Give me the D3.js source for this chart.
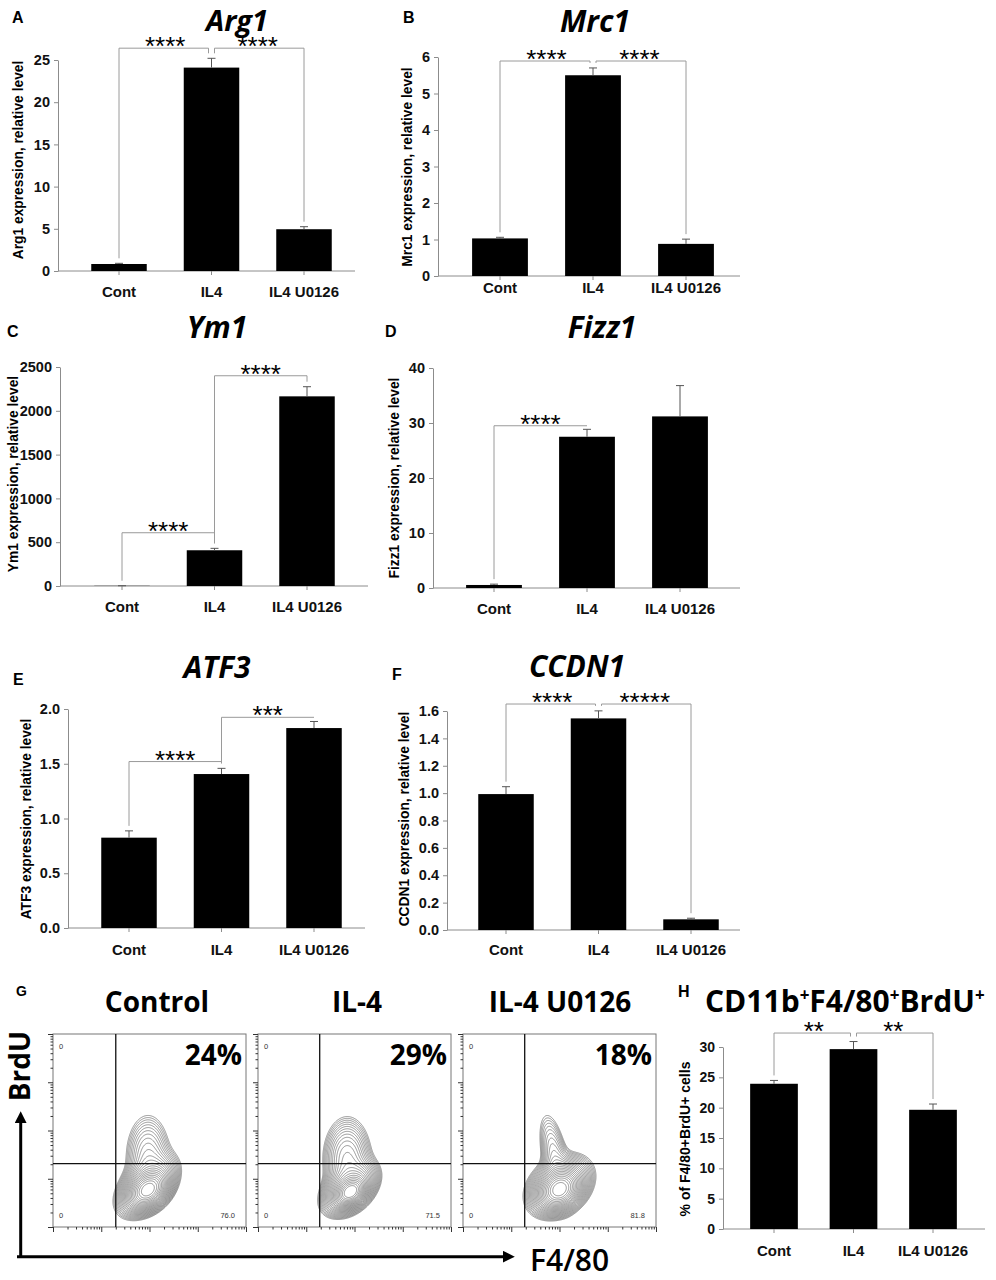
<!DOCTYPE html>
<html>
<head>
<meta charset="utf-8">
<script src="https://cdn.jsdelivr.net/npm/d3@7"></script>
<style>
  body { margin: 0; background: #fff; }
  svg { display: block; }
</style>
</head>
<body>
<div id="chart"></div>
<script>
// categories shared by all bar panels
const categories = ['Cont', 'IL4', 'IL4 U0126'];

// A - Arg1
const arg1Mean = [0.83, 24.1, 4.95];
const arg1Err = [0.08, 1.1, 0.3];
const arg1Ticks = [0, 5, 10, 15, 20, 25];
const arg1Sig = [[0, 1, '****', 26.4], [1, 2, '****', 26.4]];

// B - Mrc1
const mrc1Mean = [1.03, 5.5, 0.88];
const mrc1Err = [0.03, 0.2, 0.13];
const mrc1Ticks = [0, 1, 2, 3, 4, 5, 6];
const mrc1Sig = [[0, 1, '****', 5.89], [1, 2, '****', 5.89]];

// C - Ym1
const ym1Mean = [2, 408, 2165];
const ym1Err = [1, 22, 110];
const ym1Ticks = [0, 500, 1000, 1500, 2000, 2500];
const ym1Sig = [[0, 1, '****', 608], [1, 2, '****', 2400]];

// D - Fizz1
const fizz1Mean = [0.55, 27.5, 31.2];
const fizz1Err = [0.15, 1.35, 5.6];
const fizz1Ticks = [0, 10, 20, 30, 40];
const fizz1Sig = [[0, 1, '****', 29.5]];

// E - ATF3
const atf3Mean = [0.825, 1.406, 1.826];
const atf3Err = [0.062, 0.052, 0.06];
const atf3Ticks = [0, 0.5, 1.0, 1.5, 2.0];
const atf3Sig = [[0, 1, '****', 1.52], [1, 2, '***', 1.924]];

// F - CCDN1
const ccdn1Mean = [0.993, 1.546, 0.078];
const ccdn1Err = [0.054, 0.055, 0.008];
const ccdn1Ticks = [0, 0.2, 0.4, 0.6, 0.8, 1.0, 1.2, 1.4, 1.6];
const ccdn1Sig = [[0, 1, '****', 1.651], [1, 2, '*****', 1.651]];

// H - % BrdU+ cells
const brduMean = [23.94, 29.65, 19.65];
const brduErr = [0.55, 1.25, 0.95];
const brduTicks = [0, 5, 10, 15, 20, 25, 30];
const brduSig = [[0, 1, '**', 32.3], [1, 2, '**', 32.3]];

// G - flow cytometry
const flowTitles = ['Control', 'IL-4', 'IL-4 U0126'];
const flowUpperRight = ['24%', '29%', '18%'];
const flowLowerRight = ['76.0', '71.5', '81.8'];
const flowGateX = [200, 190, 190];
const flowGateY = [205, 205, 205];
// density blobs: [log10 F4/80, log10 BrdU, sd x, sd y, correlation, weight]
const controlBlobs = [[2.97, 1.76, 0.19, 0.18, 0.3, 1], [2.95, 1.85, 0.29, 0.29, 0.45, 0.3], [2.97, 2.45, 0.235, 0.45, 0, 0.1]];
const il4Blobs = [[2.92, 1.72, 0.15, 0.14, 0.3, 1], [2.9, 1.8, 0.26, 0.25, 0.4, 0.4], [2.85, 2.4, 0.24, 0.42, 0, 0.15]];
const u0126Blobs = [[3.0, 1.77, 0.2, 0.19, 0.2, 1], [3.0, 1.85, 0.31, 0.29, 0.3, 0.3], [2.9, 2.45, 0.17, 0.48, -0.5, 0.08]];

const ARIAL = '"Liberation Sans", Arial, sans-serif';
const CALIBRI = '"Open Sans", "Noto Sans", sans-serif';
const AXIS = '#8c8c8c';

const svg = d3.select('#chart').append('svg')
  .attr('width', 996)
  .attr('height', 1280)
  .attr('viewBox', '0 0 996 1280');

const barPanels = [
  { letter: 'A', title: 'Arg1', mean: arg1Mean, err: arg1Err, ticks: arg1Ticks, sig: arg1Sig, fmt: 'd',
    yLabel: 'Arg1 expression, relative level',
    axisX: 58, axisEnd: 355, y0: 271, yTop: 60, first: 119, step: 92.5,
    letterPos: [12, 23], titlePos: [237, 31], titleSize: 29, yLabelPos: [18, 160], xLabelY: 297 },
  { letter: 'B', title: 'Mrc1', mean: mrc1Mean, err: mrc1Err, ticks: mrc1Ticks, sig: mrc1Sig, fmt: 'd',
    yLabel: 'Mrc1 expression, relative level',
    axisX: 438, axisEnd: 740, y0: 276, yTop: 57, first: 500, step: 93,
    letterPos: [403, 23], titlePos: [595, 32], yLabelPos: [407, 167], xLabelY: 293 },
  { letter: 'C', title: 'Ym1', mean: ym1Mean, err: ym1Err, ticks: ym1Ticks, sig: ym1Sig, fmt: 'd',
    yLabel: 'Ym1 expression, relative level',
    axisX: 60, axisEnd: 368, y0: 586, yTop: 367, first: 122, step: 92.5,
    letterPos: [7, 337], titlePos: [217, 338], yLabelPos: [13, 474], xLabelY: 612 },
  { letter: 'D', title: 'Fizz1', mean: fizz1Mean, err: fizz1Err, ticks: fizz1Ticks, sig: fizz1Sig, fmt: 'd',
    yLabel: 'Fizz1 expression, relative level',
    axisX: 433, axisEnd: 740, y0: 588, yTop: 368, first: 494, step: 93,
    letterPos: [385, 337], titlePos: [602, 338], yLabelPos: [394, 478], xLabelY: 614 },
  { letter: 'E', title: 'ATF3', mean: atf3Mean, err: atf3Err, ticks: atf3Ticks, sig: atf3Sig, fmt: '.1f',
    yLabel: 'ATF3 expression, relative level',
    axisX: 68, axisEnd: 365, y0: 928, yTop: 709, first: 129, step: 92.5,
    letterPos: [13, 685], titlePos: [217, 678], yLabelPos: [26, 819], xLabelY: 955 },
  { letter: 'F', title: 'CCDN1', mean: ccdn1Mean, err: ccdn1Err, ticks: ccdn1Ticks, sig: ccdn1Sig, fmt: '.1f',
    yLabel: 'CCDN1 expression, relative level',
    axisX: 447, axisEnd: 740, y0: 930, yTop: 711, first: 506, step: 92.5,
    letterPos: [392, 680], titlePos: [577, 677], yLabelPos: [404, 819], xLabelY: 955 },
  { letter: 'H', title: null, mean: brduMean, err: brduErr, ticks: brduTicks, sig: brduSig, fmt: 'd',
    yLabel: '% of F4/80+BrdU+ cells', yLabelSize: 14, tickSize: 14,
    axisX: 723, axisEnd: 985, y0: 1229, yTop: 1047, first: 774, step: 79.5,
    letterPos: [678, 997], titlePos: null, yLabelPos: [685, 1139], xLabelY: 1256 }
];

function drawBarPanel(p) {
  const g = svg.append('g').attr('class', 'panel-' + p.letter);

  const x = d3.scaleBand()
    .domain(categories)
    .range([p.first - p.step / 2, p.first + p.step * 2.5])
    .paddingInner(0.4)
    .paddingOuter(0.2);
  const y = d3.scaleLinear()
    .domain([0, d3.max(p.ticks)])
    .range([p.y0, p.yTop]);

  const rows = categories.map((c, i) => ({ cat: c, mean: p.mean[i], err: p.err[i] }));
  const cx = c => x(c) + x.bandwidth() / 2;

  // y axis
  g.append('g')
    .attr('transform', `translate(${p.axisX},0)`)
    .call(d3.axisLeft(y).tickValues(p.ticks).tickFormat(d3.format(p.fmt)).tickSizeInner(4).tickSizeOuter(0).tickPadding(4))
    .call(s => {
      s.select('.domain').attr('stroke', AXIS);
      s.selectAll('.tick line').attr('stroke', AXIS);
      s.selectAll('.tick text')
        .attr('fill', '#111')
        .style('font-family', ARIAL)
        .style('font-weight', 'bold')
        .style('font-size', (p.tickSize || 14.5) + 'px');
    });

  // x axis
  g.append('line')
    .attr('x1', p.axisX).attr('x2', p.axisEnd)
    .attr('y1', p.y0).attr('y2', p.y0)
    .attr('stroke', AXIS);
  g.append('g')
    .attr('transform', `translate(0,${p.y0})`)
    .call(d3.axisBottom(x).tickSizeInner(4).tickSizeOuter(0))
    .call(s => {
      s.select('.domain').remove();
      s.selectAll('.tick line').attr('stroke', AXIS);
      s.selectAll('.tick text')
        .attr('y', p.xLabelY - p.y0)
        .attr('dy', 0)
        .attr('fill', '#111')
        .style('font-family', ARIAL)
        .style('font-weight', 'bold')
        .style('font-size', '15px');
    });

  // bars
  g.selectAll('.bar')
    .data(rows)
    .enter()
    .append('rect')
    .attr('class', 'bar')
    .attr('x', d => x(d.cat))
    .attr('width', x.bandwidth())
    .attr('y', d => y(d.mean))
    .attr('height', d => p.y0 - y(d.mean))
    .attr('fill', '#000');

  // error bars (upper only)
  const eb = g.selectAll('.err').data(rows).enter().append('g').attr('class', 'err');
  eb.append('line')
    .attr('x1', d => cx(d.cat)).attr('x2', d => cx(d.cat))
    .attr('y1', d => y(d.mean)).attr('y2', d => y(d.mean + d.err))
    .attr('stroke', '#555');
  eb.append('line')
    .attr('x1', d => cx(d.cat) - 4).attr('x2', d => cx(d.cat) + 4)
    .attr('y1', d => y(d.mean + d.err)).attr('y2', d => y(d.mean + d.err))
    .attr('stroke', '#555');

  // significance brackets
  p.sig.forEach(([a, b, stars, level], k) => {
    const yb = y(level);
    const shared = p.sig.filter(s => s[3] === level && (s[0] === a || s[1] === a || s[0] === b || s[1] === b)).length > 1;
    const endY = i => Math.max(yb, y(p.mean[i] + p.err[i]) - 5);
    const xa = cx(categories[a]) + (shared && p.sig.some(s => s !== p.sig[k] && s[1] === a) ? 3 : 0);
    const xb = cx(categories[b]) - (shared && p.sig.some(s => s !== p.sig[k] && s[0] === b) ? 3 : 0);
    g.append('path')
      .attr('d', `M${xa},${endY(a)}V${yb}H${xb}V${endY(b)}`)
      .attr('fill', 'none')
      .attr('stroke', '#9a9a9a');
    g.append('text')
      .attr('x', (cx(categories[a]) + cx(categories[b])) / 2)
      .attr('y', yb + 7)
      .attr('text-anchor', 'middle')
      .style('font-family', ARIAL)
      .style('font-size', '26px')
      .text(stars);
  });

  // labels
  g.append('text')
    .attr('x', p.letterPos[0]).attr('y', p.letterPos[1])
    .style('font-family', ARIAL).style('font-weight', 'bold').style('font-size', '16px')
    .text(p.letter);
  if (p.title) {
    g.append('text')
      .attr('x', p.titlePos[0]).attr('y', p.titlePos[1])
      .attr('text-anchor', 'middle')
      .style('font-family', CALIBRI).style('font-weight', 'bold').style('font-style', 'italic')
      .style('font-size', (p.titleSize || 30) + 'px')
      .text(p.title);
  }
  g.append('text')
    .attr('transform', `translate(${p.yLabelPos[0]},${p.yLabelPos[1]}) rotate(-90)`)
    .attr('text-anchor', 'middle')
    .attr('dominant-baseline', 'central')
    .style('font-family', ARIAL).style('font-weight', 'bold')
    .style('font-size', (p.yLabelSize || 13.8) + 'px')
    .text(p.yLabel);
}

barPanels.forEach(drawBarPanel);

// H title with superscripts
const hTitle = svg.append('text')
  .attr('x', 705).attr('y', 1012)
  .style('font-family', CALIBRI).style('font-weight', 'bold').style('font-size', '30px');
[['CD11b', false], ['+', true], ['F4/80', false], ['+', true], ['BrdU', false], ['+', true]].forEach(([t, sup]) => {
  hTitle.append('tspan')
    .attr('dy', sup ? -11 : (t === 'CD11b' ? 0 : 11))
    .style('font-size', sup ? '17px' : '30px')
    .text(t);
});

// ---- G: flow cytometry contour plots ----
const flowSize = 193;
const flowTop = 1034;
const flowLefts = [53, 258, 463];
const flowTitleX = [157, 357, 560];
const xFlow = d3.scaleLog().domain([10, 1e5]).range([0, flowSize]);
const yFlow = d3.scaleLog().domain([10, 1e5]).range([flowSize, 0]);
const majorTicks = [10, 100, 1e3, 1e4, 1e5];
const minorTicks = d3.range(1, 5).flatMap(d => d3.range(2, 10).map(k => k * Math.pow(10, d)));
const flowBlobs = [controlBlobs, il4Blobs, u0126Blobs];

function density(blobs, u, v) {
  let s = 0;
  blobs.forEach(([mu, mv, sx, sy, r, w]) => {
    const dx = (u - mu) / sx, dy = (v - mv) / sy;
    s += w * Math.exp(-(dx * dx - 2 * r * dx * dy + dy * dy) / (2 * (1 - r * r)));
  });
  return s;
}

flowLefts.forEach((left, i) => {
  const g = svg.append('g').attr('transform', `translate(${left},${flowTop})`);

  // contour density
  const n = flowSize;
  const values = new Array(n * n);
  for (let j = 0; j < n; j++) {
    const v = Math.log10(yFlow.invert(j + 0.5));
    for (let k = 0; k < n; k++) {
      const u = Math.log10(xFlow.invert(k + 0.5));
      values[j * n + k] = density(flowBlobs[i], u, v);
    }
  }
  const levels = d3.range(24).map(k => 0.016 * Math.pow(1.2, k));
  const contours = d3.contours().size([n, n]).thresholds(levels)(values);
  g.append('g')
    .selectAll('path')
    .data(contours)
    .enter()
    .append('path')
    .attr('d', d3.geoPath())
    .attr('fill', 'none')
    .attr('stroke', '#5e5e5e')
    .attr('stroke-width', 0.65);

  // frame
  g.append('rect')
    .attr('width', flowSize).attr('height', flowSize)
    .attr('fill', 'none').attr('stroke', '#777');

  // quadrant gates
  g.append('line')
    .attr('x1', xFlow(flowGateX[i])).attr('x2', xFlow(flowGateX[i]))
    .attr('y1', 0).attr('y2', flowSize)
    .attr('stroke', '#111').attr('stroke-width', 1.3);
  g.append('line')
    .attr('x1', 0).attr('x2', flowSize)
    .attr('y1', yFlow(flowGateY[i])).attr('y2', yFlow(flowGateY[i]))
    .attr('stroke', '#111').attr('stroke-width', 1.3);

  // log ticks
  const tickStyle = s => { s.select('.domain').remove(); s.selectAll('line').attr('stroke', '#333'); };
  g.append('g').call(d3.axisLeft(yFlow).tickValues(majorTicks).tickFormat('').tickSize(5)).call(tickStyle);
  g.append('g').call(d3.axisLeft(yFlow).tickValues(minorTicks).tickFormat('').tickSize(2.5)).call(tickStyle);
  g.append('g').attr('transform', `translate(0,${flowSize})`)
    .call(d3.axisBottom(xFlow).tickValues(majorTicks).tickFormat('').tickSize(5)).call(tickStyle);
  g.append('g').attr('transform', `translate(0,${flowSize})`)
    .call(d3.axisBottom(xFlow).tickValues(minorTicks).tickFormat('').tickSize(2.5)).call(tickStyle);

  // quadrant numbers
  const small = (x, y, t, anchor) => g.append('text')
    .attr('x', x).attr('y', y).attr('text-anchor', anchor)
    .style('font-family', ARIAL).style('font-size', '7.5px').attr('fill', '#333')
    .text(t);
  small(6, 15, '0', 'start');
  small(6, 184, '0', 'start');
  small(flowSize - 11, 184, flowLowerRight[i], 'end');

  g.append('text')
    .attr('x', flowSize - 4).attr('y', 31)
    .attr('text-anchor', 'end')
    .style('font-family', CALIBRI).style('font-weight', 'bold').style('font-size', '28px')
    .text(flowUpperRight[i]);

  svg.append('text')
    .attr('x', flowTitleX[i]).attr('y', 1012)
    .attr('text-anchor', 'middle')
    .style('font-family', CALIBRI).style('font-weight', 'bold').style('font-size', '28px')
    .text(flowTitles[i]);
});

// G letter
svg.append('text')
  .attr('x', 16).attr('y', 996)
  .style('font-family', ARIAL).style('font-weight', 'bold').style('font-size', '14px')
  .text('G');

// big axis arrows
const defs = svg.append('defs');
defs.append('marker')
  .attr('id', 'arrow')
  .attr('viewBox', '0 0 10 10')
  .attr('refX', 1).attr('refY', 5)
  .attr('markerWidth', 4).attr('markerHeight', 4)
  .attr('orient', 'auto')
  .append('path').attr('d', 'M0,0L10,5L0,10Z').attr('fill', '#000');

svg.append('path')
  .attr('d', 'M20.7,1256.7V1122')
  .attr('stroke', '#000').attr('stroke-width', 3).attr('fill', 'none')
  .attr('marker-end', 'url(#arrow)');
svg.append('path')
  .attr('d', 'M17,1256.7H504')
  .attr('stroke', '#000').attr('stroke-width', 3).attr('fill', 'none')
  .attr('marker-end', 'url(#arrow)');

svg.append('text')
  .attr('transform', 'translate(18.5,1066) rotate(-90)')
  .attr('text-anchor', 'middle')
  .attr('dominant-baseline', 'central')
  .style('font-family', CALIBRI).style('font-weight', 'bold').style('font-size', '28px')
  .text('BrdU');
svg.append('text')
  .attr('x', 530).attr('y', 1271)
  .style('font-family', CALIBRI).style('font-weight', 600).style('font-size', '30px')
  .text('F4/80');
</script>
</body>
</html>
